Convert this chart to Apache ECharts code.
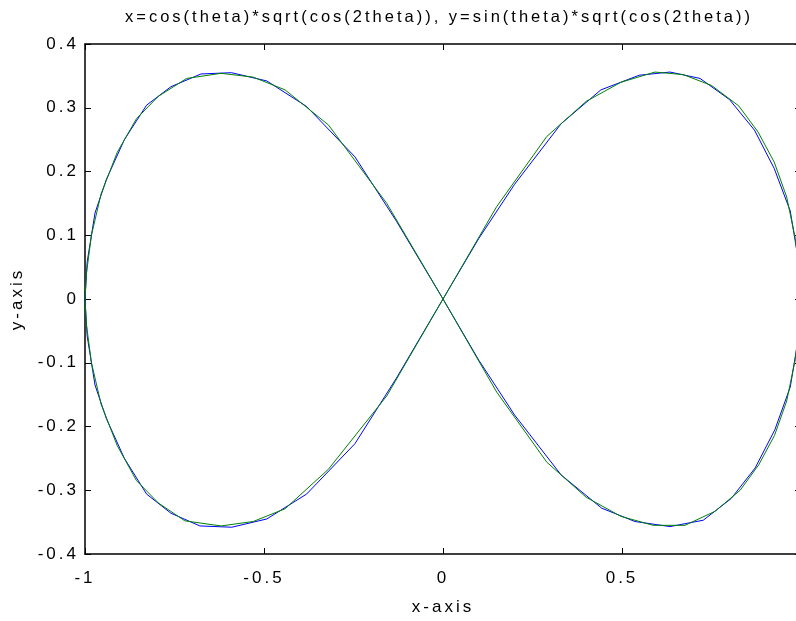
<!DOCTYPE html>
<html>
<head>
<meta charset="utf-8">
<script src="https://cdn.jsdelivr.net/npm/echarts@6/dist/echarts.min.js"></script>
<style>
html, body { margin: 0; padding: 0; background: #fff; }
#chart { width: 796px; height: 621px; }
</style>
</head>
<body>
<div id="chart"></div>
<script>
// coarse curve (blue), traced (1,0) -> right top -> origin -> left lobe -> origin -> right bottom
var blueX = [1.000, 0.990, 0.970, 0.925, 0.870, 0.800, 0.718, 0.634, 0.548, 0.441, 0.330, 0.200, 0.100, 0.000,
    -0.130, -0.246, -0.381, -0.492, -0.591, -0.676, -0.760, -0.828, -0.890, -0.940, -0.972, -0.994, -1.000,
    -0.994, -0.972, -0.940, -0.890, -0.828, -0.760, -0.679, -0.590, -0.492, -0.381, -0.246, -0.130, 0.000,
    0.100, 0.200, 0.330, 0.443, 0.536, 0.634, 0.727, 0.805, 0.872, 0.927, 0.970, 0.990, 1.000];
var blueY = [0.000, 0.070, 0.138, 0.205, 0.265, 0.313, 0.346, 0.356, 0.351, 0.328, 0.275, 0.180, 0.095, 0.000,
    0.122, 0.223, 0.302, 0.342, 0.355, 0.353, 0.333, 0.304, 0.250, 0.188, 0.135, 0.058, 0.000,
    -0.058, -0.135, -0.188, -0.250, -0.306, -0.336, -0.356, -0.358, -0.345, -0.306, -0.227, -0.124, 0.000,
    -0.096, -0.182, -0.276, -0.328, -0.349, -0.357, -0.347, -0.313, -0.265, -0.205, -0.138, -0.070, 0.000];

// finer curve (green), same path
var greenX = [1.000, 0.996, 0.984, 0.960, 0.925, 0.880, 0.826, 0.750, 0.671, 0.592, 0.497, 0.400, 0.290, 0.150, 0.000,
    -0.157, -0.320, -0.441, -0.530, -0.620, -0.716, -0.795, -0.856, -0.910, -0.955, -0.982, -0.996, -1.000,
    -0.996, -0.982, -0.955, -0.910, -0.856, -0.795, -0.721, -0.620, -0.530, -0.441, -0.320, -0.157, 0.000,
    0.150, 0.290, 0.400, 0.497, 0.587, 0.676, 0.760, 0.830, 0.882, 0.926, 0.960, 0.984, 0.996, 1.000];
var greenY = [0.000, 0.040, 0.095, 0.160, 0.215, 0.262, 0.303, 0.335, 0.352, 0.356, 0.340, 0.310, 0.255, 0.145, 0.000,
    0.150, 0.273, 0.328, 0.348, 0.354, 0.346, 0.318, 0.283, 0.230, 0.165, 0.100, 0.040, 0.000,
    -0.040, -0.100, -0.165, -0.230, -0.285, -0.320, -0.348, -0.356, -0.349, -0.329, -0.267, -0.152, 0.000,
    -0.146, -0.256, -0.311, -0.341, -0.355, -0.355, -0.333, -0.300, -0.260, -0.214, -0.160, -0.095, -0.040, 0.000];

var titleText = 'x=cos(theta)*sqrt(cos(2theta)), y=sin(theta)*sqrt(cos(2theta))';
var xName = 'x-axis';
var yName = 'y-axis';

function pairs(xs, ys) {
    return xs.map(function (x, i) { return [x, ys[i]]; });
}

// the original export has loosely spaced text, canvas can do that natively
var fillText = CanvasRenderingContext2D.prototype.fillText;
CanvasRenderingContext2D.prototype.fillText = function () {
    this.letterSpacing = '3px';
    return fillText.apply(this, arguments);
};

var font = '"Liberation Sans", Arial, sans-serif';
var tick = { show: true, inside: true, length: 6, lineStyle: { color: '#000', width: 1 } };
var line = { show: true, onZero: false, lineStyle: { color: '#000', width: 1.5 } };

var chart = echarts.init(document.getElementById('chart'));

chart.setOption({
    animation: false,
    backgroundColor: '#fff',
    textStyle: { fontFamily: font },
    title: {
        text: titleText,
        // sits over the axes box, not the page centre
        left: 120,
        top: 4,
        textAlign: 'left',
        textStyle: { fontFamily: font, fontSize: 16.5, fontWeight: 'normal', color: '#000' }
    },
    // box runs a few px past the right edge of the picture, like the reference
    grid: { left: 85, top: 44, width: 716, bottom: 67, outerBoundsMode: 'none', containLabel: false },
    xAxis: [{
        type: 'value', min: -1, max: 1, interval: 0.5,
        name: xName, nameLocation: 'middle', nameGap: 45,
        nameTextStyle: { fontFamily: font, fontSize: 17, color: '#000' },
        axisLine: line, axisTick: tick, splitLine: { show: false },
        axisLabel: { showMaxLabel: false, margin: 16, fontSize: 17, color: '#000', fontFamily: font }
    }, {
        type: 'value', position: 'top', min: -1, max: 1, interval: 0.5,
        axisLine: line, axisTick: tick, splitLine: { show: false }, axisLabel: { show: false }
    }],
    yAxis: [{
        type: 'value', min: -0.4, max: 0.4, interval: 0.1,
        name: yName, nameLocation: 'middle', nameGap: 59,
        nameTextStyle: { fontFamily: font, fontSize: 17, color: '#000' },
        axisLine: line, axisTick: tick, splitLine: { show: false },
        axisLabel: {
            margin: 6, fontSize: 17, color: '#000', fontFamily: font,
            formatter: function (v) { return String(Math.round(v * 10) / 10); }
        }
    }, {
        type: 'value', position: 'right', min: -0.4, max: 0.4, interval: 0.1,
        axisLine: line, axisTick: tick, splitLine: { show: false }, axisLabel: { show: false }
    }],
    series: [{
        type: 'line', data: pairs(blueX, blueY), showSymbol: false, symbol: 'none',
        lineStyle: { color: '#0000ff', width: 1 }, silent: true
    }, {
        type: 'line', data: pairs(greenX, greenY), showSymbol: false, symbol: 'none',
        lineStyle: { color: '#008000', width: 1 }, silent: true
    }]
});
</script>
</body>
</html>
